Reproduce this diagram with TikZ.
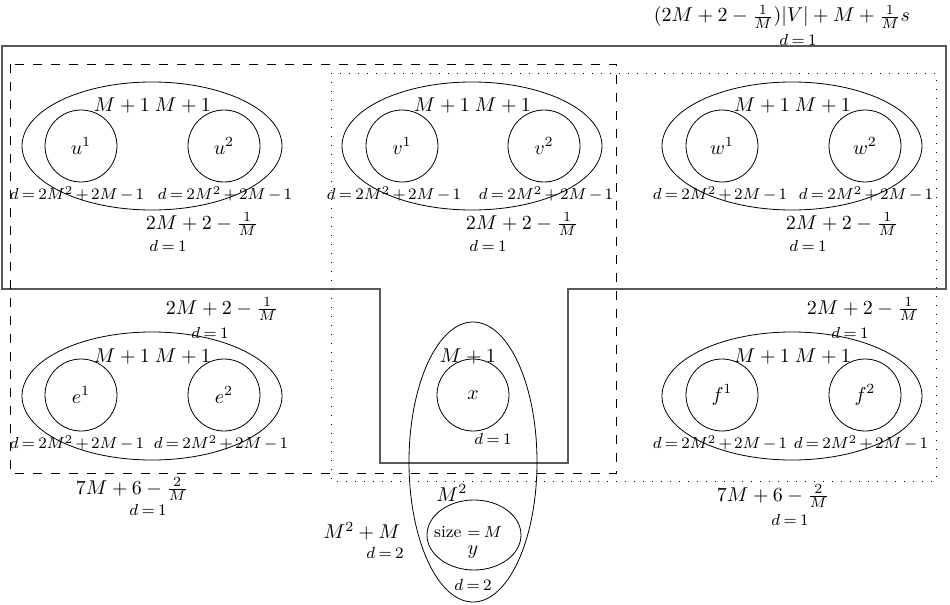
\documentclass[tikz,border=0pt]{standalone}
\usetikzlibrary{shapes.geometric}
\newcommand{\dfont}{\fontsize{8.5}{10}\selectfont\medmuskip=2.5mu\relax\thickmuskip=3.5mu\relax}
\begin{document}
\begin{tikzpicture}[
    x=0.5pt, y=-0.5pt,
    vtx/.style={draw, circle, minimum size=36pt, inner sep=0pt},
    grp/.style={draw, ellipse, minimum width=130pt, minimum height=64pt, inner sep=0pt},
    wt/.style={inner sep=1pt},
    dd/.style={inner sep=1pt, font=\dfont},
    frame_line/.style={draw=black!65, line width=0.6pt},
    cut_a/.style={dash pattern=on 4.5pt off 4.5pt, line width=0.5pt},
    cut_b/.style={draw=black, dash pattern=on 0.6pt off 3.9pt, line width=0.5pt}
]
\useasboundingbox (0,0) rectangle (950,605);

% --- Contorno exterior ---
\draw[frame_line] (2,46) -- (946,46) -- (946,289) -- (568,289) -- (568,463)
    -- (380,463) -- (380,289) -- (2,289) -- cycle;
\node[wt] (Tw) at (782,17) {$(2M+2-\frac{1}{M})|V|+M+\frac{1}{M}s$};
\node[dd] (Td) at (798,40) {$d=1$};

% --- Cortes ---
\draw[cut_a] (10,64) rectangle (616,473);
\draw[cut_b] (331,73) rectangle (936,481);

% --- Grupo U ---
\node[grp] (U) at (152,146) {};
\node[vtx] (u1) at (81,146) {$u^1$};
\node[vtx] (u2) at (224,146) {$u^2$};
\node[wt] (u1w) at (122,106) {$M+1$};
\node[wt] (u2w) at (183,106) {$M+1$};
\node[dd] (u1d) at (77,194) {$d=2M^2+2M-1$};
\node[dd] (u2d) at (225,194) {$d=2M^2+2M-1$};
\node[wt] (Uw) at (202,224) {$2M+2-\frac{1}{M}$};
\node[dd] (Ud) at (168,246) {$d=1$};

% --- Grupo V ---
\node[grp] (V) at (472,146) {};
\node[vtx] (v1) at (402,146) {$v^1$};
\node[vtx] (v2) at (544,146) {$v^2$};
\node[wt] (v1w) at (442,106) {$M+1$};
\node[wt] (v2w) at (503,106) {$M+1$};
\node[dd] (v1d) at (394,194) {$d=2M^2+2M-1$};
\node[dd] (v2d) at (546,194) {$d=2M^2+2M-1$};
\node[wt] (Vw) at (522,224) {$2M+2-\frac{1}{M}$};
\node[dd] (Vd) at (488,246) {$d=1$};

% --- Grupo W ---
\node[grp] (W) at (792,146) {};
\node[vtx] (w1) at (722,146) {$w^1$};
\node[vtx] (w2) at (865,146) {$w^2$};
\node[wt] (w1w) at (762,106) {$M+1$};
\node[wt] (w2w) at (823,106) {$M+1$};
\node[dd] (w1d) at (720,194) {$d=2M^2+2M-1$};
\node[dd] (w2d) at (866,194) {$d=2M^2+2M-1$};
\node[wt] (Ww) at (842,224) {$2M+2-\frac{1}{M}$};
\node[dd] (Wd) at (808,246) {$d=1$};

% --- Grupo E ---
\node[grp] (E) at (152,396) {};
\node[vtx] (e1) at (81,395) {$e^1$};
\node[vtx] (e2) at (224,395) {$e^2$};
\node[wt] (e1w) at (122,356) {$M+1$};
\node[wt] (e2w) at (183,356) {$M+1$};
\node[dd] (e1d) at (77,443) {$d=2M^2+2M-1$};
\node[dd] (e2d) at (221,443) {$d=2M^2+2M-1$};
\node[wt] (Ew) at (222,309) {$2M+2-\frac{1}{M}$};
\node[dd] (Ed) at (210,333) {$d=1$};
\node[wt] (Ecut) at (132,489) {$7M+6-\frac{2}{M}$};
\node[dd] (Ecutd) at (148,510) {$d=1$};

% --- Grupo F ---
\node[grp] (F) at (792,396) {};
\node[vtx] (f1) at (722,395) {$f^1$};
\node[vtx] (f2) at (865,395) {$f^2$};
\node[wt] (f1w) at (762,356) {$M+1$};
\node[wt] (f2w) at (823,356) {$M+1$};
\node[dd] (f1d) at (720,443) {$d=2M^2+2M-1$};
\node[dd] (f2d) at (861,443) {$d=2M^2+2M-1$};
\node[wt] (Fw) at (863,309) {$2M+2-\frac{1}{M}$};
\node[dd] (Fd) at (850,333) {$d=1$};
\node[wt] (Fcut) at (773,496) {$7M+6-\frac{2}{M}$};
\node[dd] (Fcutd) at (790,520) {$d=1$};

% --- Grupo X (con y) ---
\node[grp, minimum width=64pt, minimum height=140pt] (X) at (473,462) {};
\node[vtx] (x) at (473,395) {$x$};
\node[wt] (xw) at (468,356) {$M+1$};
\node[dd] (xd) at (493,439) {$d=1$};
\node[grp, minimum width=47pt, minimum height=35pt] (Y) at (474,535) {};
\node[wt] (Yw) at (452,493) {$M^2$};
\node[dd] (Ysz) at (468,532) {size $=M$};
\node[wt] (y) at (473,552) {$y$};
\node[dd] (Yd) at (473,585) {$d=2$};
\node[wt] (Xw) at (362,531) {$M^2+M$};
\node[dd] (Xd) at (385,553) {$d=2$};

\end{tikzpicture}
\end{document}
